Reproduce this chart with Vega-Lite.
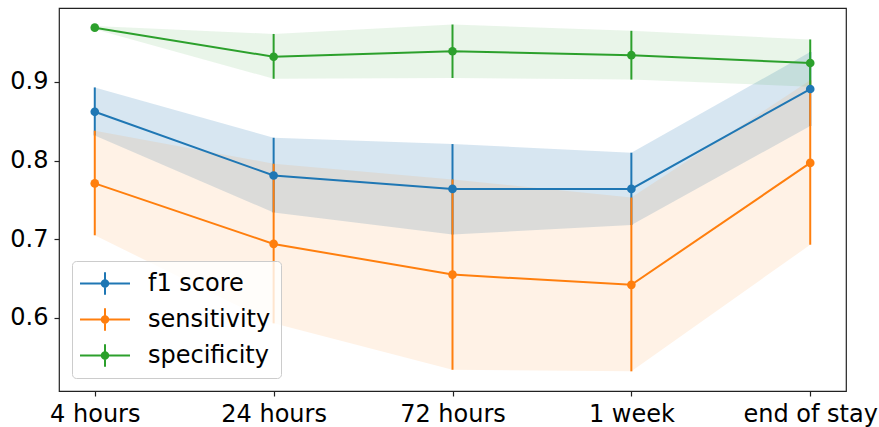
{
  "$schema": "https://vega.github.io/schema/vega-lite/v6.json",
  "autosize": {"type": "none"},
  "width": 787,
  "height": 383,
  "padding": {"left": 59, "top": 8, "right": 33, "bottom": 36},
  "config": {
    "font": "DejaVu Sans",
    "view": {"stroke": "#222222", "strokeWidth": 1.2},
    "axis": {"grid": false, "domain": false, "labelFont": "DejaVu Sans", "labelFontSize": 24, "labelColor": "#000000", "tickColor": "#222222", "tickSize": 5, "tickWidth": 1.2, "labelPadding": 6}
  },
  "data": {
    "values": [
      {"time": "4 hours", "metric": "f1 score", "mean": 0.862, "lo": 0.832, "hi": 0.893},
      {"time": "24 hours", "metric": "f1 score", "mean": 0.781, "lo": 0.734, "hi": 0.829},
      {"time": "72 hours", "metric": "f1 score", "mean": 0.764, "lo": 0.706, "hi": 0.821},
      {"time": "1 week", "metric": "f1 score", "mean": 0.764, "lo": 0.718, "hi": 0.810},
      {"time": "end of stay", "metric": "f1 score", "mean": 0.891, "lo": 0.844, "hi": 0.938},
      {"time": "4 hours", "metric": "sensitivity", "mean": 0.771, "lo": 0.705, "hi": 0.838},
      {"time": "24 hours", "metric": "sensitivity", "mean": 0.694, "lo": 0.593, "hi": 0.796},
      {"time": "72 hours", "metric": "sensitivity", "mean": 0.655, "lo": 0.534, "hi": 0.776},
      {"time": "1 week", "metric": "sensitivity", "mean": 0.642, "lo": 0.532, "hi": 0.753},
      {"time": "end of stay", "metric": "sensitivity", "mean": 0.797, "lo": 0.693, "hi": 0.902},
      {"time": "4 hours", "metric": "specificity", "mean": 0.969, "lo": 0.967, "hi": 0.971},
      {"time": "24 hours", "metric": "specificity", "mean": 0.932, "lo": 0.904, "hi": 0.961},
      {"time": "72 hours", "metric": "specificity", "mean": 0.939, "lo": 0.905, "hi": 0.973},
      {"time": "1 week", "metric": "specificity", "mean": 0.934, "lo": 0.903, "hi": 0.965},
      {"time": "end of stay", "metric": "specificity", "mean": 0.924, "lo": 0.894, "hi": 0.954}
    ]
  },
  "encoding": {
    "x": {
      "field": "time", "type": "ordinal",
      "sort": ["4 hours", "24 hours", "72 hours", "1 week", "end of stay"],
      "scale": {"type": "point", "padding": 0.2},
      "axis": {"title": null, "labelAngle": 0}
    },
    "color": {
      "field": "metric", "type": "nominal",
      "scale": {"domain": ["f1 score", "sensitivity", "specificity"], "range": ["#1f77b4", "#ff7f0e", "#2ca02c"]},
      "legend": {
        "title": null,
        "orient": "bottom-left",
        "offset": 13,
        "labelFont": "DejaVu Sans",
        "labelFontSize": 24,
        "labelColor": "#000000",
        "labelOffset": 41,
        "symbolSize": 625,
        "rowPadding": 11,
        "padding": 10,
        "fillColor": "rgba(255,255,255,0.8)",
        "strokeColor": "#cccccc",
        "cornerRadius": 4,
        "symbolType": "M-1.16,-0.08 L2.84,-0.08 L2.84,0.08 L-1.16,0.08 Z M0.76,-0.9 L0.92,-0.9 L0.92,0.9 L0.76,0.9 Z M0.5,0 A0.34,0.34 0 1,1 1.18,0 A0.34,0.34 0 1,1 0.5,0 Z",
        "encode": {
          "symbols": {
            "update": {
              "fill": {"scale": "color", "field": "value"},
              "stroke": {"value": "transparent"},
              "strokeWidth": {"value": 0},
              "opacity": {"value": 1},
              "fillOpacity": {"value": 1}
            }
          }
        }
      }
    }
  },
  "layer": [
    {
      "mark": {"type": "area", "interpolate": "linear"},
      "encoding": {
        "y": {"field": "lo", "type": "quantitative"},
        "y2": {"field": "hi"},
        "fillOpacity": {"condition": {"test": "datum.metric === 'f1 score'", "value": 0.18}, "value": 0.1}
      }
    },
    {
      "mark": {"type": "rule", "strokeWidth": 2},
      "encoding": {
        "y": {"field": "lo", "type": "quantitative"},
        "y2": {"field": "hi"}
      }
    },
    {
      "mark": {"type": "line", "strokeWidth": 2},
      "encoding": {
        "y": {"field": "mean", "type": "quantitative",
          "scale": {"domain": [0.507, 0.994], "nice": false, "zero": false},
          "axis": {"title": null, "values": [0.6, 0.7, 0.8, 0.9], "format": ".1f"}}
      }
    },
    {
      "mark": {"type": "point", "filled": true, "opacity": 1, "size": 75},
      "encoding": {
        "y": {"field": "mean", "type": "quantitative"}
      }
    }
  ]
}
